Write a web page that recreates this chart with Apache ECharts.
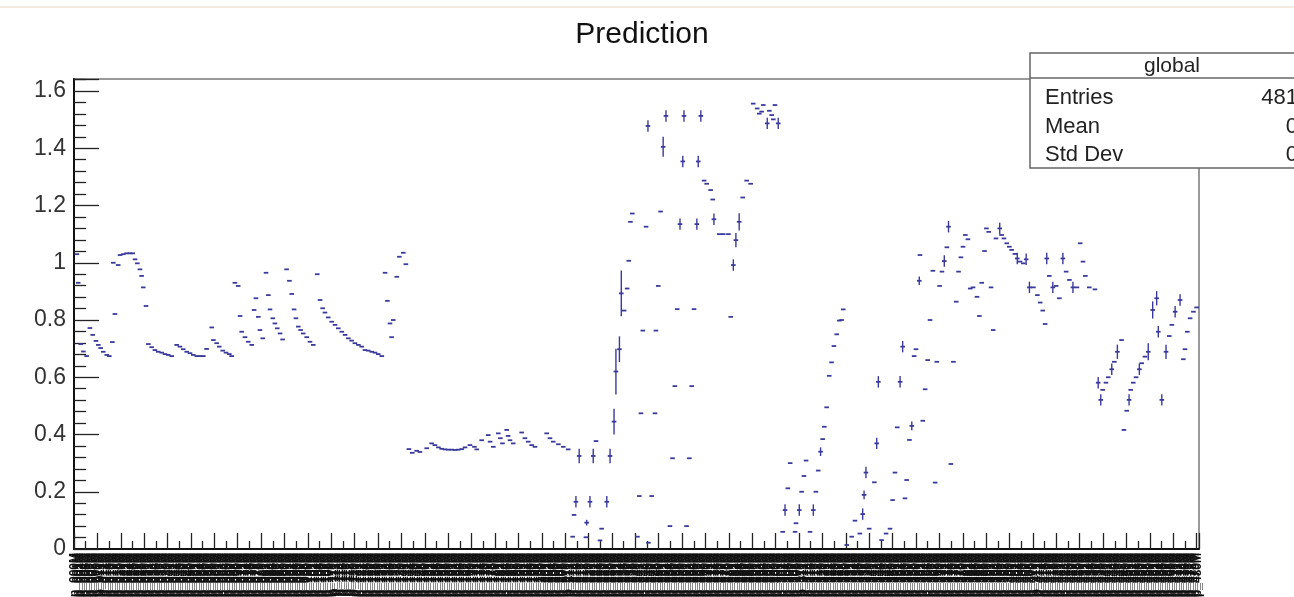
<!DOCTYPE html>
<html>
<head>
<meta charset="utf-8">
<script src="https://cdn.jsdelivr.net/npm/echarts@6/dist/echarts.min.js"></script>
<style>
html,body{margin:0;padding:0;background:#fff;}
#chart{width:1294px;height:597px;}
</style>
</head>
<body>
<div id="chart"></div>
<script>
// ---- data: [bin, value, error half-height] ----
const titleText = 'Prediction';
const statsName = 'global';
const statsRows = [['Entries', '481'], ['Mean', '0'], ['Std Dev', '0']];
const nBins = 481;
const yTicks = [0, 0.2, 0.4, 0.6, 0.8, 1, 1.2, 1.4, 1.6];

const leftCurves = [
  [1.2,1.03,0],[1.8,0.93,0],[2.9,0.716,0],[4.0,0.69,0],[5.4,0.674,0],[6.8,0.772,0],[8.0,0.748,0],
  [9.4,0.727,0],[10.4,0.713,0],[11.4,0.702,0],[12.5,0.689,0],[14.0,0.678,0],[15.1,0.674,0],
  [16.4,0.723,0],[17.5,0.821,0],[16.8,1.0,0],[18.9,0.992,0],[19.7,1.027,0],[21.1,1.03,0],
  [22.5,1.033,0],[23.9,1.033,0],[25.1,1.033,0],[26.1,1.012,0],[27.1,0.998,0],[28.2,0.977,0],
  [28.9,0.954,0],[29.6,0.914,0],[30.8,0.849,0],[31.8,0.716,0],[33.2,0.705,0],[34.6,0.695,0],
  [36.0,0.689,0],[37.5,0.686,0],[38.9,0.681,0],[40.3,0.678,0],[41.8,0.674,0],[43.9,0.713,0],
  [45.3,0.707,0],[46.7,0.698,0],[48.2,0.689,0],[49.6,0.684,0],[51.0,0.678,0],[52.5,0.674,0],
  [53.9,0.674,0],[55.3,0.674,0],[56.7,0.699,0],[58.9,0.774,0],[59.6,0.73,0],[61.0,0.719,0],
  [62.1,0.707,0],[63.6,0.693,0],[65.0,0.686,0],[66.4,0.681,0],[67.4,0.674,0],[68.8,0.93,0],
  [70.2,0.919,0],[71.0,0.814,0],[71.7,0.759,0],[73.1,0.74,0],[74.5,0.724,0],[76.0,0.713,0],
  [77.0,0.835,0],[77.8,0.876,0],[78.8,0.811,0],[79.5,0.765,0],[80.7,0.736,0],[82.1,0.965,0],
  [83.1,0.887,0],[83.8,0.837,0],[85.0,0.806,0],[85.9,0.788,0],[86.9,0.771,0],[88.1,0.753,0],
  [89.2,0.732,0],[90.9,0.977,0],[92.1,0.937,0],[93.1,0.891,0],[94.1,0.837,0],[94.9,0.806,0],
  [95.9,0.777,0],[96.9,0.765,0],[98.0,0.753,0],[99.5,0.74,0],[100.9,0.724,0],[102.3,0.713,0],
  [104.0,0.96,0],[105.2,0.87,0],[106.3,0.841,0],[107.3,0.826,0],[108.7,0.809,0],[110.2,0.794,0],
  [111.6,0.783,0],[113.0,0.771,0],[114.5,0.759,0],[115.9,0.748,0],[117.3,0.736,0],[118.7,0.728,0],
  [120.1,0.719,0],[121.6,0.713,0],[123.0,0.707,0],[124.4,0.695,0],[125.8,0.693,0],[127.3,0.689,0],
  [128.7,0.686,0],[130.1,0.681,0],[131.6,0.674,0],[133.0,0.965,0],[134.0,0.867,0],[135.1,0.788,0],
  [135.8,0.74,0],[136.5,0.8,0],[138.0,0.951,0],[139.1,1.021,0],[140.8,1.035,0],[141.9,0.995,0]
];

const plateau = [
  [143.2,0.349,0],[144.6,0.336,0],[146.5,0.343,0],[147.9,0.339,0],[150.8,0.352,0],[152.9,0.369,0],
  [154.3,0.363,0],[155.8,0.355,0],[157.2,0.35,0],[158.6,0.348,0],[160.0,0.347,0],[161.5,0.347,0],
  [162.9,0.346,0],[164.3,0.347,0],[165.8,0.349,0],[167.2,0.355,0],[169.3,0.363,0],[171.2,0.357,0],
  [172.2,0.348,0],[174.3,0.38,0],[177.1,0.398,0],[177.9,0.375,0],[179.3,0.357,0],[181.4,0.404,0],
  [182.3,0.387,0],[183.2,0.369,0],[185.0,0.416,0],[185.6,0.395,0],[186.4,0.38,0],[187.8,0.369,0],
  [191.4,0.407,0],[192.8,0.387,0],[194.2,0.375,0],[195.7,0.363,0],[197.1,0.357,0],[202.1,0.404,0],
  [203.5,0.387,0],[204.9,0.375,0],[207.1,0.366,0],[209.2,0.357,0],[211.3,0.348,0]
];

const risingCluster = [
  [216.0,0.325,0.025],[222.0,0.325,0.025],[229.2,0.325,0.025],[223.2,0.377,0],[214.6,0.165,0.02],
  [220.6,0.165,0.02],[227.8,0.165,0.02],[213.8,0.119,0],[219.2,0.092,0.01],[225.6,0.071,0],
  [213.2,0.043,0],[218.9,0.041,0],[224.9,0.03,0],[230.9,0.445,0.045],[231.7,0.62,0.08],
  [233.2,0.698,0.045],[234.0,0.893,0.08],[235.2,0.833,0],[236.5,0.91,0],[237.2,1.007,0],
  [237.9,1.143,0],[238.7,1.172,0],[240.9,0.043,0],[241.7,0.185,0],[242.4,0.474,0],[243.2,0.763,0],
  [244.6,1.126,0],[245.4,1.478,0.02],[245.6,0.022,0],[247.0,0.185,0],[248.4,0.474,0],[248.8,0.763,0],
  [249.8,0.919,0],[250.8,1.179,0],[251.9,1.405,0.035],[253.1,1.513,0.02],[254.8,0.08,0],
  [255.9,0.317,0],[256.9,0.569,0],[257.9,0.838,0],[259.1,1.135,0.02],[260.3,1.354,0.02],
  [260.8,1.513,0.02],[261.9,0.08,0],[263.1,0.317,0],[264.1,0.569,0],[265.1,0.838,0],
  [266.3,1.135,0.02],[266.9,1.354,0.02],[268.0,1.513,0.02],[269.4,1.287,0],[270.5,1.276,0],
  [272.2,1.254,0],[273.1,1.221,0],[273.6,1.152,0.02],[275.9,1.1,0],[277.6,1.1,0],[279.8,1.1,0],
  [280.8,0.811,0],[281.9,0.992,0.02],[283.0,1.079,0.025],[284.4,1.143,0.03],[285.9,1.228,0],
  [287.6,1.287,0],[289.3,1.276,0],[290.4,1.556,0],[292.1,1.539,0],[293.0,1.521,0],[294.0,1.528,0],
  [294.7,1.551,0],[296.4,1.487,0.02],[297.3,1.531,0],[298.3,1.516,0],[299.0,1.501,0],
  [299.7,1.551,0],[301.1,1.487,0.02]
];

const secondRamp = [
  [303.0,0.06,0],[304.0,0.136,0.02],[305.2,0.212,0],[306.2,0.3,0],[308.3,0.06,0],[308.7,0.09,0],
  [310.1,0.136,0.02],[311.1,0.2,0],[312.1,0.255,0],[313.0,0.309,0],[314.7,0.06,0],[316.1,0.136,0.02],
  [317.2,0.2,0],[318.2,0.274,0],[319.2,0.34,0.015],[320.1,0.384,0],[320.8,0.427,0],[321.8,0.495,0],
  [322.9,0.605,0],[323.9,0.652,0],[324.9,0.709,0],[326.1,0.75,0],[327.2,0.798,0],[328.2,0.8,0],
  [328.9,0.837,0],[330.4,0.014,0],[332.5,0.043,0],[333.9,0.099,0],[336.0,0.054,0],[337.2,0.122,0.02],
  [337.8,0.189,0.015],[338.6,0.267,0.02],[340.0,0.071,0],[342.2,0.233,0],[343.2,0.369,0.02],
  [343.9,0.584,0.02],[345.3,0.031,0],[347.2,0.054,0],[348.9,0.071,0],[350.0,0.171,0],[351.0,0.267,0],
  [352.0,0.425,0],[353.2,0.584,0.02],[354.3,0.707,0.02],[355.3,0.177,0],[356.0,0.241,0],
  [357.2,0.381,0],[358.2,0.43,0.015],[359.2,0.674,0],[360.0,0.698,0],[361.4,0.937,0.015],
  [361.7,1.027,0],[362.9,0.448,0],[363.9,0.558,0],[365.0,0.66,0],[366.0,0.8,0],[367.2,0.972,0],
  [368.2,0.232,0],[368.9,0.654,0],[370.1,0.919,0],[371.1,0.969,0],[372.1,1.006,0.02],[373.2,1.054,0],
  [373.9,1.126,0.02],[374.9,0.297,0],[376.0,0.654,0],[377.2,0.864,0],[378.2,0.969,0],[379.2,1.019,0],
  [380.1,1.056,0],[381.1,1.097,0],[382.2,1.082,0],[383.2,0.91,0],[384.4,0.914,0],[386.1,0.881,0],
  [387.1,0.814,0],[388.1,0.93,0],[389.3,1.041,0],[390.1,1.12,0],[391.1,1.108,0],[392.1,0.914,0],
  [393.0,0.765,0],[394.2,1.085,0],[395.8,1.12,0.02],[396.6,1.097,0],[397.6,1.085,0],[398.8,1.068,0],
  [399.9,1.056,0],[400.9,1.045,0],[402.3,1.031,0],[403.3,1.015,0.02],[404.5,1.004,0],[405.9,0.998,0],
  [407.1,1.012,0.02],[408.5,0.914,0.02],[410.2,0.914,0],[411.9,0.887,0],[413.1,0.861,0],
  [414.2,0.833,0],[415.2,0.786,0],[415.9,1.015,0.02],[417.0,0.954,0],[418.5,0.914,0.02],
  [419.9,0.919,0],[421.3,0.876,0],[422.8,1.015,0.02],[424.2,0.969,0],[425.6,0.94,0],
  [427.1,0.914,0.02],[428.8,0.914,0],[430.2,1.068,0],[431.4,1.004,0],[432.4,0.954,0],
  [434.1,0.914,0],[436.5,0.907,0]
];

const rightCluster = [
  [437.9,0.581,0.02],[439.0,0.521,0.02],[439.8,0.556,0],[441.2,0.581,0],[442.2,0.6,0],
  [443.7,0.628,0.02],[444.8,0.654,0],[446.1,0.689,0.025],[447.9,0.73,0],[448.9,0.416,0],
  [450.1,0.483,0],[451.1,0.521,0.02],[451.8,0.556,0],[452.9,0.581,0],[454.1,0.6,0],
  [455.5,0.628,0.02],[456.5,0.649,0],[457.9,0.672,0],[459.3,0.689,0.03],[461.2,0.835,0.03],
  [462.9,0.876,0.025],[463.6,0.759,0.02],[465.1,0.521,0.02],[466.9,0.689,0.025],[468.3,0.744,0],
  [469.4,0.783,0],[470.8,0.829,0.02],[472.9,0.87,0.02],[474.3,0.663,0],[475.0,0.698,0],
  [476.0,0.759,0],[477.2,0.806,0],[478.6,0.829,0],[480.0,0.844,0]
];

// unreadable bin labels (dense, overlapping in the original)
const binLabelParts = ['run', 'evt', 'cfg', 'set'];
const binLabels = [];
for (let i = 0; i < nBins; i++) {
  binLabels.push(binLabelParts[i % 4] + (1000 + i) + 'W ' + 'p_' + String(i).padStart(3, '0') + 'M');
}

const allPoints = leftCurves.concat(plateau, risingCluster, secondRamp, rightCluster);

const markColor = '#3a3a9c';
const chart = echarts.init(document.getElementById('chart'), null, {renderer: 'canvas'});

const FONT = '"Liberation Sans", Arial, Helvetica, sans-serif';

chart.setOption({
  animation: false,
  backgroundColor: '#ffffff',
  title: {
    text: titleText,
    left: 637, top: 15, textAlign: 'center',
    textStyle: {fontFamily: FONT, fontSize: 30, fontWeight: 'normal', color: '#111'}
  },
  grid: {
    left: 74, right: 95, top: 79, bottom: 48,
    containLabel: false, outerBoundsMode: 'none',
    show: true, borderColor: '#7a7a7a', borderWidth: 1.5, backgroundColor: 'transparent'
  },
  xAxis: [
    {
      type: 'value', min: 0, max: nBins, interval: 10, position: 'bottom',
      axisLine: {show: true, onZero: false, lineStyle: {color: '#111', width: 2}},
      axisTick: {show: true, inside: true, length: 16, lineStyle: {color: '#222', width: 1.3}},
      minorTick: {show: true, splitNumber: 2, length: 8, lineStyle: {color: '#222', width: 1.3}},
      axisLabel: {show: false},
      splitLine: {show: false}
    },
    {
      type: 'category', data: binLabels, position: 'bottom', boundaryGap: true,
      axisLine: {show: false}, axisTick: {show: false}, splitLine: {show: false},
      axisLabel: {interval: 0, rotate: 90, margin: 4, fontSize: 12, fontWeight: 'bold', fontFamily: FONT, color: '#111', hideOverlap: false}
    }
  ],
  yAxis: {
    type: 'value', min: 0, max: 1.642, interval: 0.2,
    axisLine: {show: true, lineStyle: {color: '#111', width: 2}},
    axisTick: {show: true, inside: true, length: 25, lineStyle: {color: '#222', width: 1.3}},
    minorTick: {show: true, splitNumber: 5, length: 12, lineStyle: {color: '#222', width: 1.3}},
    axisLabel: {
      margin: 8, fontSize: 23, fontFamily: FONT, color: '#333', showMaxLabel: false,
      formatter: v => (yTicks.some(t => Math.abs(t - v) < 1e-6) ? String(+v.toFixed(1)) : '')
    },
    splitLine: {show: false}
  },
  series: [{
    type: 'custom',
    xAxisIndex: 0, yAxisIndex: 0,
    data: allPoints,
    encode: {x: 0, y: 1},
    clip: false,
    renderItem: function (params, api) {
      const x = api.value(0), y = api.value(1), e = api.value(2);
      const c = api.coord([x, y]);
      const kids = [{
        type: 'line',
        shape: {x1: c[0] - 2.3, y1: c[1], x2: c[0] + 2.3, y2: c[1]},
        style: {stroke: markColor, lineWidth: 1.8}
      }];
      if (e > 0) {
        const lo = api.coord([x, y - e]);
        const hi = api.coord([x, y + e]);
        kids.push({
          type: 'line',
          shape: {x1: c[0], y1: lo[1], x2: c[0], y2: hi[1]},
          style: {stroke: markColor, lineWidth: 1.4}
        });
      }
      return {type: 'group', children: kids};
    }
  }],
  graphic: [
    {type: 'line', shape: {x1: 0, y1: 7, x2: 1294, y2: 7}, style: {stroke: '#efe4d4', lineWidth: 1.5}, z: 10},
    {type: 'rect', shape: {x: 1030, y: 53, width: 300, height: 115},
      style: {fill: '#ffffff', stroke: '#666', lineWidth: 1.5}, z: 100},
    {type: 'line', shape: {x1: 1030, y1: 78, x2: 1294, y2: 78}, style: {stroke: '#666', lineWidth: 1.5}, z: 101},
    {type: 'text', x: 1172, y: 66, z: 102,
      style: {text: statsName, font: '21px ' + FONT, fill: '#222', textAlign: 'center', textVerticalAlign: 'middle'}},
    ...statsRows.map((r, i) => ({type: 'text', x: 1045, y: 98 + i * 28.5, z: 102,
      style: {text: r[0], font: '22px ' + FONT, fill: '#222', textAlign: 'left', textVerticalAlign: 'middle'}})),
    ...statsRows.map((r, i) => ({type: 'text', x: 1298, y: 98 + i * 28.5, z: 102,
      style: {text: r[1], font: '22px ' + FONT, fill: '#222', textAlign: 'right', textVerticalAlign: 'middle'}}))
  ]
});
</script>
</body>
</html>
